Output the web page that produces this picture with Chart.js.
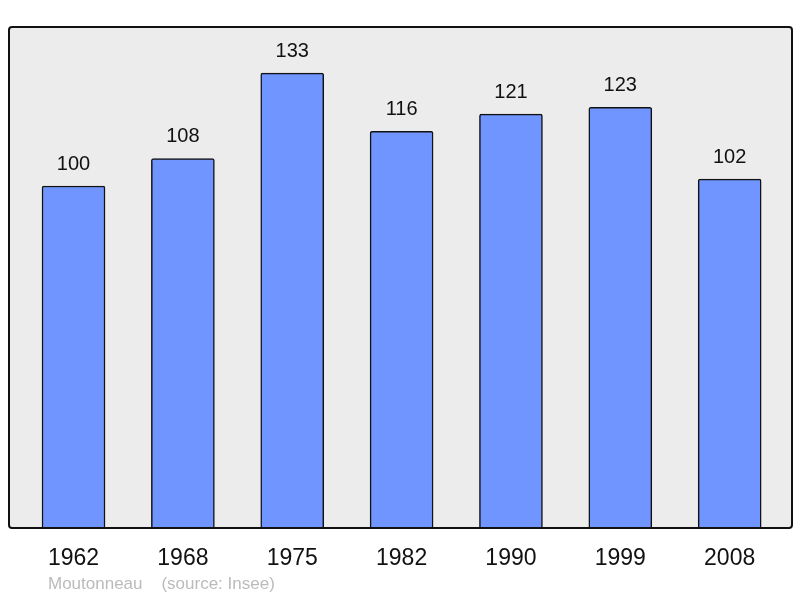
<!DOCTYPE html>
<html>
<head>
<meta charset="utf-8">
<script src="https://cdn.jsdelivr.net/npm/chart.js@4"></script>
<style>
html, body { margin: 0; padding: 0; background: #fff; }
#wrap { width: 800px; height: 598px; position: relative; }
</style>
</head>
<body>
<div id="wrap"><canvas id="popChart"></canvas></div>
<script>
var years = ["1962", "1968", "1975", "1982", "1990", "1999", "2008"];
var population = [100, 108, 133, 116, 121, 123, 102];
var footer = "Moutonneau    (source: Insee)";

// grey box behind the bars + value labels + footer
var decor = {
    id: 'decor',
    beforeDraw: function(chart) {
        var ctx = chart.ctx, a = chart.chartArea;
        ctx.save();
        ctx.fillStyle = '#ececec';
        ctx.beginPath();
        ctx.roundRect(a.left, a.top, a.right - a.left, a.bottom - a.top, 3);
        ctx.fill();
        ctx.restore();
    },
    afterDatasetsDraw: function(chart) {
        var ctx = chart.ctx, a = chart.chartArea;
        ctx.save();
        ctx.strokeStyle = '#111';
        ctx.lineWidth = 2;
        ctx.beginPath();
        ctx.roundRect(a.left, a.top, a.right - a.left, a.bottom - a.top, 3);
        ctx.stroke();
        ctx.font = '20px "Liberation Sans", Arial, sans-serif';
        ctx.fillStyle = '#111';
        ctx.textAlign = 'center';
        ctx.textBaseline = 'middle';
        chart.getDatasetMeta(0).data.forEach(function(bar, i) {
            ctx.fillText(population[i], bar.x, bar.y - 22);
        });
        ctx.font = '17px "Liberation Sans", Arial, sans-serif';
        ctx.fillStyle = '#bbbbbb';
        ctx.textAlign = 'left';
        ctx.fillText(footer, 48, 584);
        ctx.restore();
    }
};

var chart = new Chart(document.getElementById('popChart'), {
    type: 'bar',
    data: {
        datasets: [{
            data: population.map(function(v, i) { return {x: i, y: v}; }),
            backgroundColor: '#7095ff',
            borderColor: '#111',
            borderWidth: 1.5,
            borderRadius: 2,
            borderSkipped: 'bottom',
            barThickness: 63
        }]
    },
    options: {
        responsive: true,
        maintainAspectRatio: false,
        animation: false,
        layout: { padding: { left: 9, right: 8, top: 27, bottom: 0 } },
        plugins: { legend: { display: false }, tooltip: { enabled: false } },
        scales: {
            x: {
                type: 'linear',
                min: -0.59,
                max: 6.57,
                offset: false,
                grid: { display: false },
                border: { display: false },
                afterBuildTicks: function(scale) {
                    scale.ticks = years.map(function(y, i) { return {value: i}; });
                },
                afterFit: function(scale) { scale.height = 70; },
                ticks: {
                    autoSkip: false,
                    maxRotation: 0,
                    padding: 9,
                    color: '#111',
                    font: { family: '"Liberation Sans", Arial, sans-serif', size: 23 },
                    callback: function(v) { return years[v]; }
                }
            },
            y: {
                display: false,
                min: 0,
                max: 146.5
            }
        }
    },
    plugins: [decor]
});
</script>
</body>
</html>
